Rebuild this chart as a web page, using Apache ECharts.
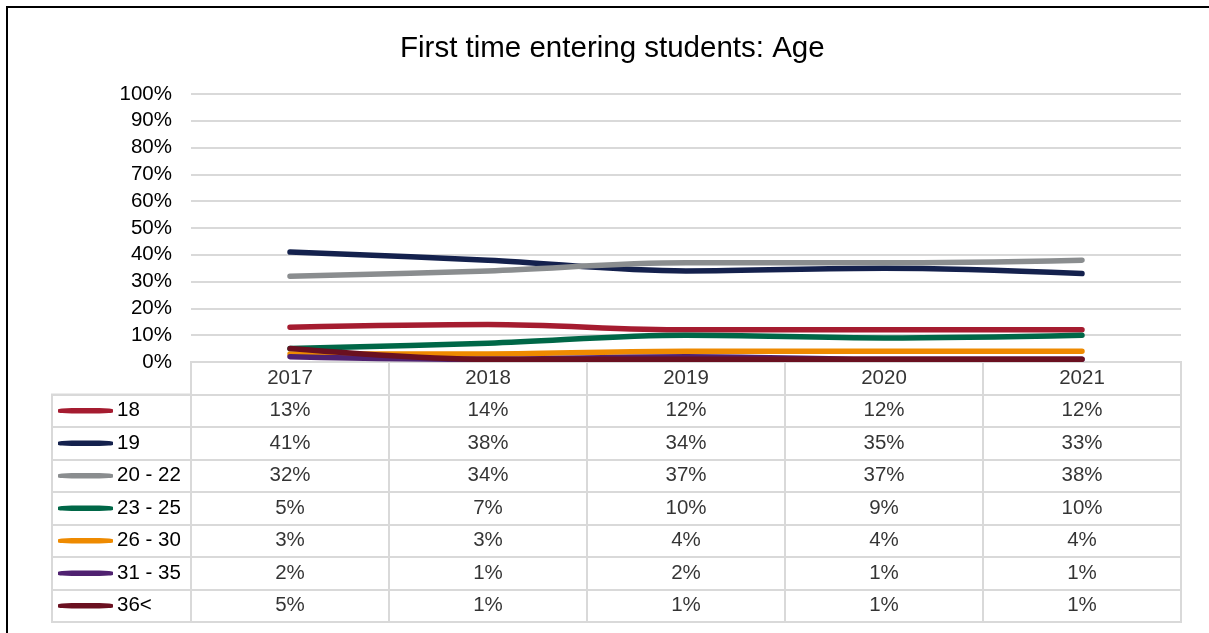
<!DOCTYPE html>
<html>
<head>
<meta charset="utf-8">
<title>First time entering students: Age</title>
<script src="https://cdn.jsdelivr.net/npm/echarts@6/dist/echarts.min.js"></script>
<style>
  html, body { margin: 0; padding: 0; background: #fff; overflow: hidden; }
  #frame { position: absolute; left: 6px; top: 6px; width: 1400px; height: 800px;
           border: 2px solid #000; box-sizing: border-box; pointer-events: none; }
  #chart { position: absolute; left: 0; top: 0; width: 1209px; height: 633px; }
</style>
</head>
<body>
<div id="chart"></div>
<div id="frame"></div>
<script>
// Academic years
const years = ['2017', '2018', '2019', '2020', '2021'];

// Share of first time entering students per age group (%)
const age18    = [13, 14, 12, 12, 12];
const age19    = [41, 38, 34, 35, 33];
const age20_22 = [32, 34, 37, 37, 38];
const age23_25 = [5, 7, 10, 9, 10];
const age26_30 = [3, 3, 4, 4, 4];
const age31_35 = [2, 1, 2, 1, 1];
const age36    = [5, 1, 1, 1, 1];

const groupNames = ['18', '19', '20 - 22', '23 - 25', '26 - 30', '31 - 35', '36<'];
const groupValues = [age18, age19, age20_22, age23_25, age26_30, age31_35, age36];
const groupColors = ['#A51C30', '#14214D', '#8A8D8F', '#006747', '#EE8A00', '#4F2170', '#6A1020'];

// Value axis ticks
const yMin = 0, yMax = 100, yStep = 10;

const FONT = '"Liberation Sans", Arial, sans-serif';
const TEXT_SIZE = 20.5;
const GRID_LINE = '#d9d9d9';

// Rows of the data table: a header row with the years, then one per age group
const tableRows = ['year'].concat(groupNames);

const lineSeries = groupNames.map((name, i) => ({
  name: name,
  type: 'line',
  xAxisIndex: 0,
  yAxisIndex: 0,
  data: groupValues[i],
  smooth: 0.35,
  symbol: 'none',
  lineStyle: { color: groupColors[i], width: 5.5, cap: 'round', join: 'round' },
  itemStyle: { color: groupColors[i] },
  z: 3 + i
}));

// Header cells with the year names
const headerCells = years.map((y, ci) => [ci, 0, y]);
// Value cells
const valueCells = [];
groupValues.forEach((vals, ri) => {
  vals.forEach((v, ci) => valueCells.push([ci, ri + 1, v]));
});

const cellLabel = {
  show: true,
  position: 'inside',
  color: '#000',
  fontFamily: FONT,
  fontSize: TEXT_SIZE
};

const option = {
  animation: false,
  backgroundColor: 'transparent',
  title: {
    text: 'First time entering students: Age',
    left: 395,
    top: 29,
    textStyle: { fontFamily: FONT, fontSize: 29.5, fontWeight: 'normal', color: '#000' }
  },
  grid: [
    { left: 191, right: 28, top: 94, height: 268 },
    { left: 191, right: 28, top: 362, bottom: 11, show: true, borderColor: GRID_LINE, borderWidth: 2 },
    { left: 52, width: 139, top: 394.5, bottom: 11, show: true, borderColor: GRID_LINE, borderWidth: 2 }
  ],
  xAxis: [
    { type: 'category', gridIndex: 0, data: years, boundaryGap: true,
      axisLine: { show: false }, axisTick: { show: false }, axisLabel: { show: false }, splitLine: { show: false } },
    { type: 'category', gridIndex: 1, data: years, boundaryGap: true,
      axisLine: { show: false }, axisTick: { show: false }, axisLabel: { show: false },
      splitLine: { show: true, lineStyle: { color: GRID_LINE, width: 2 } } },
    { type: 'category', gridIndex: 2, data: ['legend'], boundaryGap: true,
      axisLine: { show: false }, axisTick: { show: false }, axisLabel: { show: false }, splitLine: { show: false } }
  ],
  yAxis: [
    { type: 'value', gridIndex: 0, min: yMin, max: yMax, interval: yStep,
      axisLine: { show: false }, axisTick: { show: false },
      axisLabel: { formatter: '{value}%', color: '#000', fontFamily: FONT, fontSize: TEXT_SIZE, margin: 19 },
      splitLine: { show: true, lineStyle: { color: GRID_LINE, width: 2 } } },
    { type: 'category', gridIndex: 1, data: tableRows, inverse: true, boundaryGap: true,
      axisLine: { show: false }, axisTick: { show: false }, axisLabel: { show: false },
      splitLine: { show: true, lineStyle: { color: GRID_LINE, width: 2 } } },
    { type: 'category', gridIndex: 2, data: groupNames, inverse: true, boundaryGap: true,
      axisLine: { show: false }, axisTick: { show: false }, axisLabel: { show: false },
      splitLine: { show: true, lineStyle: { color: GRID_LINE, width: 2 } } }
  ],
  series: lineSeries.concat([
    {
      name: 'table-header',
      type: 'scatter',
      xAxisIndex: 1, yAxisIndex: 1,
      data: headerCells,
      symbolSize: 1,
      itemStyle: { color: 'rgba(0,0,0,0)' },
      label: Object.assign({}, cellLabel, { formatter: p => p.value[2] }),
      silent: true
    },
    {
      name: 'table-values',
      type: 'scatter',
      xAxisIndex: 1, yAxisIndex: 1,
      data: valueCells,
      symbolSize: 1,
      itemStyle: { color: 'rgba(0,0,0,0)' },
      label: Object.assign({}, cellLabel, { formatter: p => p.value[2] + '%' }),
      silent: true
    },
    {
      name: 'table-keys',
      type: 'scatter',
      xAxisIndex: 2, yAxisIndex: 2,
      data: groupNames.map((n, i) => ({
        value: ['legend', n],
        itemStyle: { color: groupColors[i], opacity: 1 }
      })),
      symbol: 'roundRect',
      symbolSize: [55, 5.5],
      symbolOffset: [-36, 0],
      itemStyle: { opacity: 1 },
      label: {
        show: true,
        position: 'right',
        distance: 4,
        color: '#000',
        fontFamily: FONT,
        fontSize: TEXT_SIZE,
        formatter: p => p.value[1]
      },
      silent: true
    }
  ])
};

const chart = echarts.init(document.getElementById('chart'), null, { renderer: 'canvas' });
chart.setOption(option);
</script>
</body>
</html>
